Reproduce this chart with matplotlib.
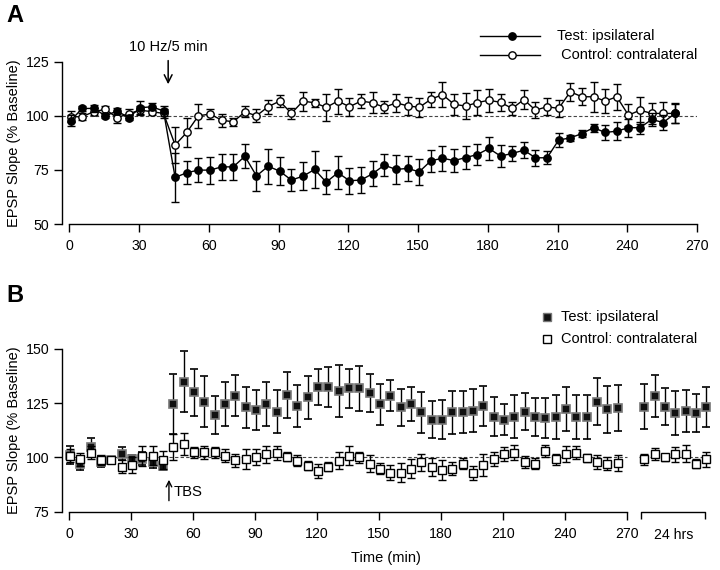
import numpy as np
import matplotlib
matplotlib.use("Agg")
import matplotlib.pyplot as plt

plt.rcParams['font.family'] = ['Liberation Sans', 'DejaVu Sans']

# ==========================================================
# 1. DATA
# ==========================================================
# Panel A: 10 Hz / 5 min, one point every 5 min
a_time = np.arange(0.5, 261, 5)
a_test = [97.7, 103.4, 103.4, 100.0, 102.2, 99.2, 103.7, 104.2, 102.2, 71.5,
          73.7, 74.9, 74.9, 76.4, 76.4, 81.3, 72.2, 76.7, 74.4, 70.3,
          72.1, 75.2, 69.3, 73.7, 70.0, 70.3, 73.3, 77.2, 75.2, 75.7,
          74.1, 79.2, 80.4, 79.3, 80.7, 82.1, 84.9, 81.4, 82.6, 84.1,
          80.6, 80.6, 88.8, 89.8, 91.8, 94.5, 92.3, 92.9, 94.5, 94.5,
          98.3, 96.9, 101.1]
a_test_err = [2.5, 1.0, 1.5, 0.8, 1.2, 1.0, 3.0, 1.5, 2.5, 11.5,
              5.4, 5.5, 6.2, 6.0, 6.0, 5.6, 7.0, 8.0, 6.4, 5.2,
              6.5, 8.7, 5.6, 7.7, 6.0, 6.2, 5.8, 5.2, 6.5, 5.7,
              5.9, 5.0, 5.8, 5.4, 5.4, 5.0, 5.2, 5.2, 3.3, 3.6,
              3.6, 3.0, 3.2, 1.3, 1.5, 1.8, 3.6, 4.2, 4.2, 2.8,
              2.9, 3.5, 4.6]
a_ctrl = [99.5, 99.6, 101.9, 103.0, 99.1, 101.0, 102.6, 101.9, 101.1, 86.5,
          92.3, 100.0, 100.8, 98.0, 97.2, 101.8, 100.0, 104.2, 106.8, 101.1,
          106.8, 106.0, 103.9, 106.8, 104.2, 106.8, 106.0, 103.9, 106.0, 104.6,
          103.9, 107.6, 109.8, 105.3, 104.5, 106.1, 107.2, 106.2, 103.4, 107.5,
          102.6, 104.2, 103.4, 111.1, 108.8, 108.8, 106.8, 108.8, 100.3, 102.6,
          101.1, 101.1, 101.1]
a_ctrl_err = [2.5, 1.5, 1.5, 1.5, 2.5, 2.0, 2.0, 1.5, 2.0, 8.2,
              6.9, 5.5, 2.5, 3.0, 2.0, 2.5, 3.0, 3.2, 2.7, 2.5,
              4.4, 1.9, 6.4, 5.8, 4.2, 3.1, 4.9, 2.8, 4.2, 4.2,
              4.4, 3.5, 5.6, 5.0, 6.0, 5.6, 5.4, 3.9, 3.1, 4.2,
              3.7, 3.9, 3.9, 4.2, 3.9, 6.9, 5.4, 6.0, 5.2, 6.2,
              5.0, 5.2, 4.4]

# Panel B: TBS
b_time = np.arange(0.5, 266, 5)
b_test = [101.1, 97.2, 104.9, 98.0, 98.8, 101.8, 99.2, 99.5, 98.0, 96.2,
          124.5, 134.9, 130.0, 125.7, 119.5, 124.6, 128.5, 123.1, 121.8, 124.5,
          121.1, 128.8, 123.7, 127.7, 132.6, 132.6, 130.6, 131.8, 131.8, 129.8,
          124.5, 128.5, 123.1, 124.5, 120.8, 117.5, 117.5, 120.8, 121.0, 121.6,
          123.7, 118.8, 117.5, 118.8, 121.1, 118.8, 118.0, 118.8, 122.3, 118.8,
          118.8, 125.7, 122.3, 122.9]
b_test_err = [4, 3, 4, 2.5, 1.5, 3, 2, 3, 3, 2,
              13.8, 14, 10.8, 11.7, 8.7, 10.2, 9.6, 9.3, 9.1, 10.2,
              9.8, 10.5, 9.7, 9.8, 8.4, 9.2, 11.9, 8.8, 10.2, 8.8,
              9.5, 7.1, 8.6, 7.9, 9.6, 8.7, 9.2, 9.8, 9.5, 10,
              9.2, 9.1, 7.2, 10, 8.5, 8.8, 9.2, 10.2, 10, 10.2,
              10.2, 10.9, 10.8, 10.7]
b_ctrl = [100.8, 99.2, 102.2, 98.8, 98.8, 95.7, 96.5, 100.6, 100.8, 98.8,
          104.9, 106.2, 102.3, 102.3, 102.3, 100.8, 98.7, 99.4, 100.2, 101.5,
          102.2, 100.3, 98.5, 96.2, 93.7, 95.7, 98.5, 100.8, 100.0, 97.2,
          94.9, 92.9, 92.9, 94.9, 97.7, 95.7, 94.2, 94.9, 97.2, 92.9,
          96.5, 99.2, 101.5, 102.2, 98.0, 97.2, 102.9, 99.2, 101.5, 102.2,
          99.8, 98.0, 97.2, 97.5]
b_ctrl_err = [3, 3, 3, 2.5, 1.5, 3, 3.5, 4.5, 4.5, 4,
              6, 5, 2.5, 3, 2.5, 3, 3, 4.6, 3.5, 3.9,
              3.3, 2, 2.5, 2, 3.2, 2, 3.8, 4.5, 2.5, 4,
              2.5, 3.5, 4.4, 4.2, 3.8, 4.2, 4.5, 3, 2.5, 3.3,
              5, 3.3, 3.3, 3.5, 2.8, 2.5, 2.7, 2.5, 3.6, 3,
              2, 3.3, 3, 3.6]

# 24 hrs recordings
h24_test = [123.4, 128.3, 123.4, 120.6, 121.4, 120.6, 123.4]
h24_test_err = [10.5, 9.5, 8.5, 10.2, 9.8, 8.8, 9.2]
h24_ctrl = [99.1, 101.5, 100.0, 101.5, 101.8, 97.2, 99.2]
h24_ctrl_err = [2.7, 2.7, 1.5, 3.5, 3.8, 2.0, 3.5]

a_xticks = list(range(0, 271, 30))
a_yticks = [50, 75, 100, 125]
b_xticks = list(range(0, 271, 30))
b_yticks = [75, 100, 125, 150]

# ==========================================================
# 2. FIGURE
# ==========================================================
fig = plt.figure(figsize=(7.2, 5.7), dpi=100)
W, H = 720, 570

def px_axes(x0, x1, y0, y1):
    return fig.add_axes([x0 / W, 1 - y1 / H, (x1 - x0) / W, (y1 - y0) / H])

def style_axes(ax):
    for s in ['top', 'right']:
        ax.spines[s].set_visible(False)
    for s in ['left', 'bottom']:
        ax.spines[s].set_linewidth(1.0)
    ax.tick_params(direction='out', length=5.5, width=1, labelsize=10.2)
    ax.tick_params(axis='x', pad=5.5)
    ax.tick_params(axis='y', pad=3.5)
    ax.set_facecolor('none')

eb = dict(elinewidth=1, capsize=2.6, capthick=1, ecolor='black', clip_on=False)

# ---------- Panel A ----------
axA = px_axes(61.7, 697, 61.7, 224)
style_axes(axA)
axA.set_xlim(-3.3, 270)
axA.set_ylim(50, 125)
axA.spines['left'].set_bounds(50, 125)
axA.spines['bottom'].set_bounds(0, 270)
axA.set_xticks(a_xticks)
axA.set_yticks(a_yticks)
axA.axhline(100, color='#444444', lw=0.8, ls=(0, (3, 2)), zorder=1)

axA.errorbar(a_time, a_ctrl, yerr=a_ctrl_err, fmt='-o', color='black', lw=1,
             ms=5.3, mfc='white', mec='black', mew=1, zorder=3, **eb)
axA.errorbar(a_time, a_test, yerr=a_test_err, fmt='-o', color='black', lw=1,
             ms=5.3, mfc='black', mec='black', zorder=4, **eb)

axA.set_ylabel('EPSP Slope (% Baseline)', fontsize=10.5, labelpad=3)
axA.annotate('', xy=(42.5, 113.3), xytext=(42.5, 126.8),
             arrowprops=dict(arrowstyle='->', lw=1.1, color='black',
                             mutation_scale=14), annotation_clip=False)
axA.text(42.5, 132, '10 Hz/5 min', ha='center', va='center', fontsize=10.5)

# legend A (drawn by hand, figure pixel coordinates)
for i, (mfc, lab) in enumerate([('black', 'Test: ipsilateral'),
                                 ('white', ' Control: contralateral')]):
    yy = 1 - (36 + 19 * i) / H
    fig.add_artist(plt.Line2D([480 / W, 540 / W], [yy, yy], color='black', lw=1))
    fig.add_artist(plt.Line2D([512 / W], [yy], marker='o', ms=5.3, mfc=mfc,
                              mec='black', mew=1))
    fig.text(557 / W, yy, lab, fontsize=10.5, va='center', ha='left')

fig.text(6 / W, 1 - 15 / H, 'A', fontsize=17, fontweight='bold', va='center')

# ---------- Panel B ----------
axB = px_axes(61.7, 709.5, 349, 511.7)
style_axes(axB)
axB.set_xlim(-3.5, 310)
axB.set_ylim(75, 150)
axB.spines['left'].set_bounds(75, 150)
axB.spines['bottom'].set_bounds(0, 270)
axB.set_xticks(b_xticks)
axB.set_yticks(b_yticks)

dash = dict(color='#444444', lw=0.8, ls=(0, (3, 2)), zorder=1)
axB.plot([0, 270], [100, 100], **dash)
axB.plot([276, 310], [100, 100], **dash)

# second axis segment for 24 hrs
h24_x = 278.5 + 5 * np.arange(len(h24_test))
seg_lo = 75 - 7.6 / 2.168
axB.plot([277, 277, 308, 308], [seg_lo, 75, 75, seg_lo], color='black', lw=1,
         clip_on=False, solid_capstyle='butt')
axB.text(292.5, 75 - 23 / 2.168, '24 hrs', ha='center', va='center', fontsize=10.2)

sq_test = dict(fmt='s', ms=6, mfc='#111111', mec='#777777', mew=1.2)
sq_ctrl = dict(fmt='s', ms=6, mfc='white', mec='black', mew=1)
axB.errorbar(b_time, b_test, yerr=b_test_err, zorder=3, **sq_test, **eb)
axB.errorbar(h24_x, h24_test, yerr=h24_test_err, zorder=3, **sq_test, **eb)
axB.errorbar(b_time, b_ctrl, yerr=b_ctrl_err, zorder=4, **sq_ctrl, **eb)
axB.errorbar(h24_x, h24_ctrl, yerr=h24_ctrl_err, zorder=4, **sq_ctrl, **eb)

axB.set_ylabel('EPSP Slope (% Baseline)', fontsize=10.5, labelpad=3)
axB.set_xlabel('Time (min)', fontsize=10.5, labelpad=7)
axB.annotate('', xy=(48.4, 91.0), xytext=(48.4, 78.8),
             arrowprops=dict(arrowstyle='->', lw=1.0, color='black',
                             mutation_scale=10), annotation_clip=False)
axB.text(50.6, 84.0, 'TBS', ha='left', va='center', fontsize=10.7)

# legend B
for i, (mfc, mec, lab) in enumerate([('#111111', '#777777', 'Test: ipsilateral'),
                                      ('white', 'black', 'Control: contralateral')]):
    yy = 1 - (316.7 + 22.6 * i) / H
    fig.add_artist(plt.Line2D([547 / W], [yy], marker='s', ms=6, mfc=mfc,
                              mec=mec, mew=1, ls='none'))
    fig.text(561 / W, yy, lab, fontsize=10.5, va='center', ha='left')

fig.text(6 / W, 1 - 295 / H, 'B', fontsize=17, fontweight='bold', va='center')

fig.savefig('out.png', dpi=100)
